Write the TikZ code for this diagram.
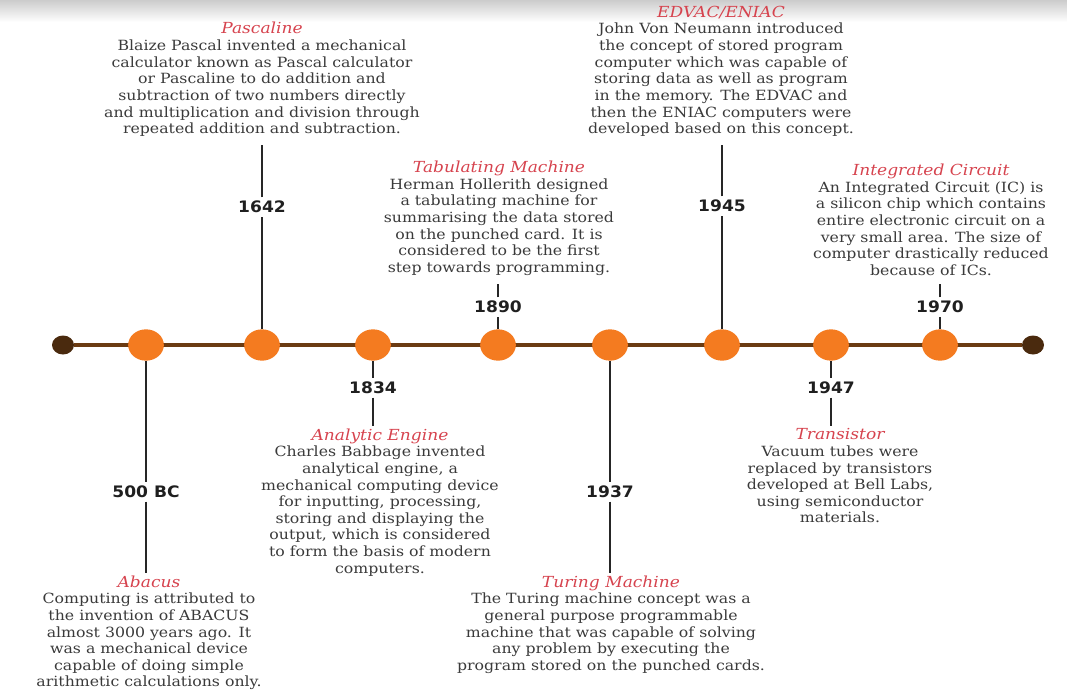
\documentclass[tikz,border=0pt]{standalone}
\usepackage{fontspec}
\setmainfont{DejaVu Serif}[FakeStretch=1.12]
\newfontfamily\yearfont{DejaVu Sans}[FakeStretch=1.08]
\usepackage{xcolor}
\usetikzlibrary{shapes.geometric}
\definecolor{dotorange}{HTML}{F47B20}
\definecolor{axisbrown}{HTML}{6B3B12}
\definecolor{endbrown}{HTML}{4A2A0E}
\definecolor{headred}{HTML}{D6434E}
\definecolor{bodygrey}{HTML}{3A3A3A}
\tikzstyle{datedot} = [ellipse, fill=dotorange,
	minimum width = 1.07cm,
	minimum height = 0.94cm, inner sep=0pt]
\tikzstyle{enddot} = [ellipse, fill=endbrown,
	minimum width = 0.66cm,
	minimum height = 0.57cm, inner sep=0pt]
\tikzstyle{axis} = [line width=3.4pt, axisbrown]
\tikzstyle{stem} = [line width=1.6pt, black!85]
\tikzstyle{year} = [font=\yearfont\bfseries\fontsize{13.5}{15}\selectfont, text=black!88, inner sep=3pt]
\tikzstyle{blurb} = [align=center, text=bodygrey, inner xsep=0pt,
	font=\fontsize{12}{14.2}\selectfont]
\tikzstyle{blurbup} = [blurb, anchor=south, inner ysep=7pt]
\tikzstyle{blurbdown} = [blurb, anchor=north, inner ysep=2pt]
\newcommand{\head}[1]{{\color{headred}\itshape\fontsize{13}{14.2}\selectfont #1}}

\begin{document}
\begin{tikzpicture}[x=0.03cm, y=-0.03cm]
	\useasboundingbox (0,0) rectangle (1067,689);
	\shade [top color=black!20, bottom color=white] (0,0) rectangle (1067,22);
	
	% the time axis
	\node (lend) [enddot] at (63,345) {};
	\node (rend) [enddot] at (1033,345) {};
	\draw [axis] (lend) -- (rend);
	
	\node (c500) [datedot] at (146,345) {};
	\node (c1642) [datedot] at (262,345) {};
	\node (c1834) [datedot] at (373,345) {};
	\node (c1890) [datedot] at (498,345) {};
	\node (c1937) [datedot] at (610,345) {};
	\node (c1945) [datedot] at (722,345) {};
	\node (c1947) [datedot] at (831,345) {};
	\node (c1970) [datedot] at (940,345) {};
	
	% years
	\node (y500) [year] at (146,492) {500 BC};
	\node (y1642) [year] at (262,207) {1642};
	\node (y1834) [year] at (373,388) {1834};
	\node (y1890) [year] at (498,307) {1890};
	\node (y1937) [year] at (610,492) {1937};
	\node (y1945) [year] at (722,206) {1945};
	\node (y1947) [year] at (831,388) {1947};
	\node (y1970) [year] at (940,307) {1970};
	
	% texts above the axis
	\node (pascal) [blurbup] at (262,145) {\head{Pascaline}\\
		Blaize Pascal invented a mechanical\\
		calculator known as Pascal calculator\\
		or Pascaline to do addition and\\
		subtraction of two numbers directly\\
		and multiplication and division through\\
		repeated addition and subtraction.};
	\node (edvac) [blurbup] at (721,145) {\head{EDVAC/ENIAC}\\
		John Von Neumann introduced\\
		the concept of stored program\\
		computer which was capable of\\
		storing data as well as program\\
		in the memory. The EDVAC and\\
		then the ENIAC computers were\\
		developed based on this concept.};
	\node (tabul) [blurbup] at (499,284) {\head{Tabulating Machine}\\
		Herman Hollerith designed\\
		a tabulating machine for\\
		summarising the data stored\\
		on the punched card. It is\\
		considered to be the first\\
		step towards programming.};
	\node (ic) [blurbup] at (931,284) {\head{Integrated Circuit}\\
		An Integrated Circuit (IC) is\\
		a silicon chip which contains\\
		entire electronic circuit on a\\
		very small area. The size of\\
		computer drastically reduced\\
		because of ICs.};
	
	% texts below the axis
	\node (abacus) [blurbdown] at (149,573) {\head{Abacus}\\
		Computing is attributed to\\
		the invention of ABACUS\\
		almost 3000 years ago. It\\
		was a mechanical device\\
		capable of doing simple\\
		arithmetic calculations only.};
	\node (analytic) [blurbdown] at (380,426) {\head{Analytic Engine}\\
		Charles Babbage invented\\
		analytical engine, a\\
		mechanical computing device\\
		for inputting, processing,\\
		storing and displaying the\\
		output, which is considered\\
		to form the basis of modern\\
		computers.};
	\node (turing) [blurbdown] at (611,573) {\head{Turing Machine}\\
		The Turing machine concept was a\\
		general purpose programmable\\
		machine that was capable of solving\\
		any problem by executing the\\
		program stored on the punched cards.};
	\node (transistor) [blurbdown] at (840,426) {\head{Transistor}\\
		Vacuum tubes were\\
		replaced by transistors\\
		developed at Bell Labs,\\
		using semiconductor\\
		materials.};
	
	% stems
	\draw [stem] (c500) -- (y500);
	\draw [stem] (y500) -- (y500 |- abacus.north);
	\draw [stem] (c1642) -- (y1642);
	\draw [stem] (y1642) -- (y1642 |- pascal.south);
	\draw [stem] (c1834) -- (y1834);
	\draw [stem] (y1834) -- (y1834 |- analytic.north);
	\draw [stem] (c1890) -- (y1890);
	\draw [stem] (y1890) -- (y1890 |- tabul.south);
	\draw [stem] (c1937) -- (y1937);
	\draw [stem] (y1937) -- (y1937 |- turing.north);
	\draw [stem] (c1945) -- (y1945);
	\draw [stem] (y1945) -- (y1945 |- edvac.south);
	\draw [stem] (c1947) -- (y1947);
	\draw [stem] (y1947) -- (y1947 |- transistor.north);
	\draw [stem] (c1970) -- (y1970);
	\draw [stem] (y1970) -- (y1970 |- ic.south);
\end{tikzpicture}
\end{document}
